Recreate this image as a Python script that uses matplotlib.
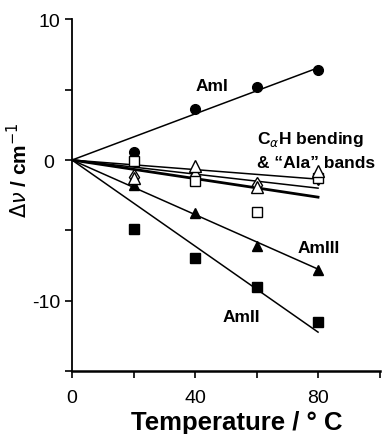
import matplotlib.pyplot as plt
import numpy as np

plt.rcParams['font.family'] = ['Liberation Sans', 'DejaVu Sans']

# temperatures of the measurements (deg C)
temps = [20, 40, 60, 80]

# frequency shifts (cm-1) relative to room temperature
ami = [0.6, 3.6, 5.2, 6.4]
amiii = [-1.8, -3.8, -6.1, -7.8]
amii = [-4.9, -7.0, -9.0, -11.5]
cah_square = [-0.1, -1.5, -3.7, -1.3]
cah_triangle = [-1.3, -0.4, -1.9, -0.8]
cah_diamond = [-1.2, -1.1, -1.8, -1.2]

# slopes of the linear fits through the origin (cm-1 / deg C)
slope_ami = 0.082
slope_amiii = -0.097
slope_amii = -0.153
slopes_cah = [-0.017, -0.025, -0.033]

fig = plt.figure(figsize=(3.83, 4.35), dpi=100)
ax = fig.add_axes([0.188, 0.145, 0.803, 0.808])

xfit = np.array([0, 80])
ax.plot(xfit, slope_ami * xfit, color='black', lw=1.1)
ax.plot(xfit, slope_amiii * xfit, color='black', lw=1.1)
ax.plot(xfit, slope_amii * xfit, color='black', lw=1.1)
for s, w in zip(slopes_cah, [1.1, 1.1, 2.0]):
    ax.plot(xfit, s * xfit, color='black', lw=w)

ax.plot(temps, ami, 'o', color='black', ms=7)
ax.plot(temps, amiii, '^', color='black', ms=7)
ax.plot(temps, amii, 's', color='black', ms=6.5)
ax.plot(temps, cah_diamond, 'd', mfc='white', mec='black', mew=1.0, ms=8)
ax.plot(temps, cah_square, 's', mfc='white', mec='black', mew=1.0, ms=6.5)
ax.plot(temps, cah_triangle, '^', mfc='white', mec='black', mew=1.0, ms=8)

lab = dict(fontsize=12.5, fontweight='bold', va='center')
ax.text(40.2, 5.3, 'AmI', **lab)
ax.text(60.3, 1.5, r'C$_{\alpha}$H bending', **lab)
ax.text(60.3, -0.15, '& \u201cAla\u201d bands', **lab)
ax.text(73.5, -6.2, 'AmIII', **lab)
ax.text(48.8, -11.1, 'AmII', **lab)

ax.set_xlim(0, 100)
ax.set_ylim(-15, 10)
ax.set_xticks([0, 20, 40, 60, 80, 100])
ax.set_xticklabels(['0', '', '40', '', '80', ''])
ax.set_yticks([-15, -10, -5, 0, 5, 10])
ax.set_yticklabels(['', '-10', '', '0 ', '', '10'])
ax.tick_params(labelsize=14, length=5, width=1.2)
ax.tick_params(axis='x', pad=8)

for side in ['top', 'right']:
    ax.spines[side].set_visible(False)
ax.spines['left'].set_linewidth(1.3)
ax.spines['bottom'].set_linewidth(1.8)

ax.set_xlabel('Temperature / \u00b0 C', fontsize=18.5, fontweight='bold')
ax.xaxis.set_label_coords(0.535, -0.112)
ax.set_ylabel(r'$\Delta\nu$ / cm$^{-1}$', fontsize=15, fontweight='bold')
ax.yaxis.set_label_coords(-0.133, 0.574)

plt.savefig('out.png')
